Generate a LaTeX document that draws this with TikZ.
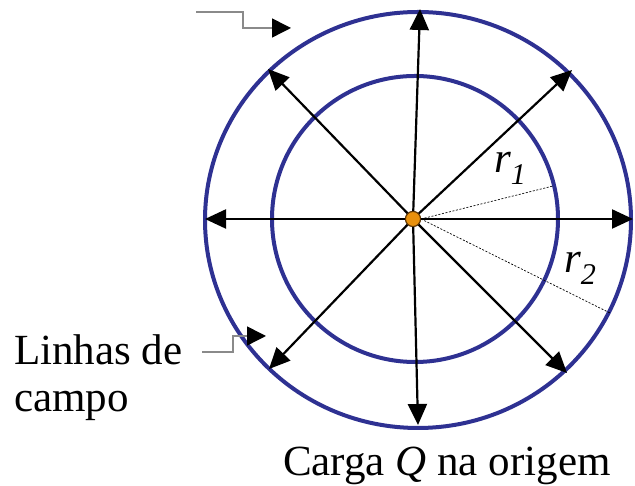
\documentclass[tikz,border=0pt]{standalone}
\usepackage{fontspec}
\setmainfont{Liberation Serif}
\usetikzlibrary{arrows.meta,calc}
\definecolor{ring}{HTML}{2E3192}
\definecolor{charge}{HTML}{E8900C}
\definecolor{chargerim}{HTML}{5A3200}
\definecolor{pointer}{HTML}{8A8A8A}
\tikzset{
  ringline/.style  = {draw=ring, line width=4pt},
  field/.style     = {-{Triangle[length=21pt,width=19pt]}, draw=black, line width=2.2pt},
  radline/.style   = {draw=black, line width=0.7pt, dash pattern=on 2pt off 1.6pt},
  callout/.style   = {-{Triangle[length=19pt,width=19pt,color=black]}, draw=pointer, line width=1.5pt},
  lab/.style       = {font=\fontsize{43}{47}\selectfont, inner sep=0pt, outer sep=0pt},
  rlab/.style      = {font=\fontsize{43}{47}\selectfont\itshape, inner sep=0pt, anchor=base west},
  dot/.style       = {circle, draw=chargerim, fill=charge, line width=1pt, minimum size=15pt, inner sep=0pt},
}
\begin{document}
\begin{tikzpicture}[x=1pt,y=1pt]
\path[use as bounding box] (0,0) rectangle (635,486);

% ---- rings ---------------------------------------------------------------
\coordinate (rc) at (418,266);
\draw[ringline] (rc) ellipse [x radius=213, y radius=208];
\draw[ringline] (415,267) circle [radius=143];

% ---- charge and field lines -----------------------------------------------
\node[dot] (Q) at (413,267) {};
\foreach \n/\px/\py in {e/633/267, ne/572/416, n/420/477, nw/268/417,
                        w/205/267, sw/269/117, s/418/61, se/567/113} {
  \coordinate (f\n) at (\px,\py);
  \draw[field] (Q) -- (f\n);
}
\node[dot] at (Q) {};

% ---- radii ---------------------------------------------------------------
\coordinate (rone) at (553,300);
\coordinate (rtwo) at (610,173);
\draw[radline] (Q.east) -- (rone);
\draw[radline] (Q.east) -- (rtwo);
\node[rlab] (ronelab) at (494,313) {r\textsubscript{1}};
\node[rlab] (rtwolab) at (564,213) {r\textsubscript{2}};

% ---- callouts ------------------------------------------------------------
\coordinate (ctop) at (196,474);
\coordinate (ctoptip) at (291,458);
\draw[callout] (ctop) -- (243,474) -- (243,458) -- (ctoptip);
\coordinate (cbot) at (202,134);
\coordinate (cbottip) at (266,150);
\draw[callout] (cbot) -- (233,134) -- (233,150) -- (cbottip);

\node[lab, anchor=base west, align=left] (linhas) at (14,74) {Linhas de\\campo};
\node[lab, anchor=base west] (carga) at (283,10) {Carga \textit{Q} na origem};
\end{tikzpicture}
\end{document}
